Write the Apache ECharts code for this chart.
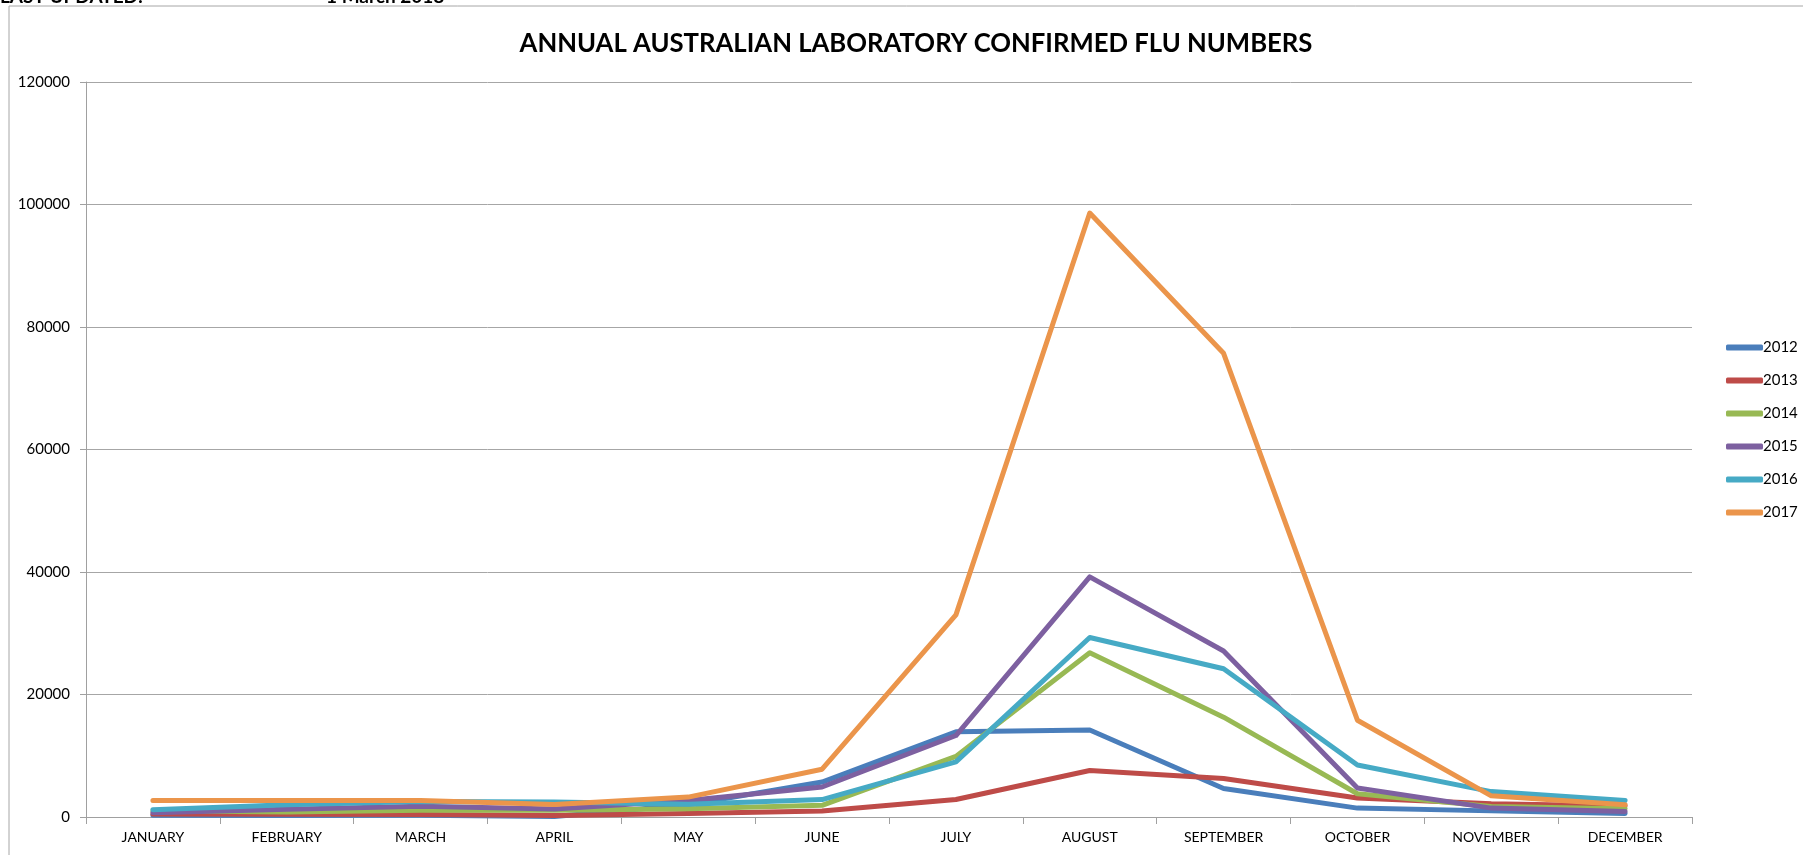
<!DOCTYPE html>
<html>
<head>
<meta charset="utf-8">
<title>Annual Australian Laboratory Confirmed Flu Numbers</title>
<script src="https://cdn.jsdelivr.net/npm/echarts@6/dist/echarts.min.js"></script>
<style>
	html, body { margin:0; padding:0; background:#fff; }
	#main { width:1803px; height:855px; }
</style>
</head>
<body>
<div id="main"></div>
<script>
// month labels on the category axis
var months = ['JANUARY','FEBRUARY','MARCH','APRIL','MAY','JUNE','JULY','AUGUST','SEPTEMBER','OCTOBER','NOVEMBER','DECEMBER'];
var years = ['2012','2013','2014','2015','2016','2017'];
var yTicks = [0, 20000, 40000, 60000, 80000, 100000, 120000];

// values
var flu2012 = [300, 260, 300, 100, 2000, 5700, 13900, 14200, 4650, 1450, 1000, 560];
var flu2013 = [490, 440, 400, 230, 560, 980, 2850, 7600, 6300, 3100, 2150, 1800];
var flu2014 = [1000, 800, 1100, 1100, 1350, 1900, 9900, 26800, 16300, 3800, 1700, 1350];
var flu2015 = [700, 1250, 1750, 1300, 2700, 4900, 13300, 39200, 27100, 4750, 1450, 900];
var flu2016 = [1200, 2000, 2550, 2450, 2100, 2850, 9000, 29300, 24200, 8500, 4150, 2700];
var flu2017 = [2700, 2700, 2700, 2050, 3250, 7800, 33000, 98600, 75700, 15800, 3450, 2000];

var colors = ['#4A7EBB','#BE4B48','#98B954','#7D60A0','#46AAC5','#EB954B'];
var fontName = 'Lato';

var myChart = echarts.init(document.getElementById('main'));

var seriesData = [flu2012, flu2013, flu2014, flu2015, flu2016, flu2017];
var seriesList = new Array();
for(var i = 0; i < years.length; i++){
	seriesList.push({
		name: years[i],
		type: 'line',
		data: seriesData[i],
		symbol: 'none',
		smooth: false,
		z: 2 + i,
		lineStyle: { width: 5, color: colors[i], cap: 'round', join: 'round' },
		itemStyle: { color: colors[i] }
	});
}

var option = {
	animation: false,
	backgroundColor: '#fff',
	color: colors,
	title: {
		text: 'ANNUAL AUSTRALIAN LABORATORY CONFIRMED FLU NUMBERS',
		left: 911,
		textAlign: 'center',
		top: 26,
		textStyle: { fontFamily: fontName, fontWeight: 'bold', fontSize: 25.7, color: '#000' }
	},
	// outer chart frame and the clipped header line above it
	graphic: [
		{ type: 'rect', shape: { x: 9, y: 6, width: 1820, height: 900 }, style: { fill: 'none', stroke: '#a6a6a6', lineWidth: 1 }, silent: true },
		{ type: 'text', left: 0, top: -13, style: { text: 'LAST UPDATED:', font: 'bold 19px Lato', fill: '#000' } },
		{ type: 'text', left: 326, top: -13, style: { text: '1 March 2018', font: 'bold 19px Lato', fill: '#000' } }
	],
	legend: {
		orient: 'vertical',
		left: 1721,
		top: 335,
		itemWidth: 37,
		itemHeight: 6,
		itemGap: 18,
		icon: 'roundRect',
		data: years,
		textStyle: { fontFamily: fontName, fontSize: 15, color: '#000', padding: [0, 0, 0, -5] }
	},
	grid: { left: 86, right: 111, top: 82, bottom: 38, containLabel: false },
	xAxis: {
		type: 'category',
		data: months,
		boundaryGap: true,
		axisLine: { lineStyle: { color: '#a0a0a0', width: 1 } },
		axisTick: { show: true, length: 7, lineStyle: { color: '#a0a0a0' } },
		axisLabel: { fontFamily: fontName, fontSize: 14, color: '#000', margin: 13, interval: 0 },
		splitLine: { show: false }
	},
	yAxis: {
		type: 'value',
		min: yTicks[0],
		max: yTicks[yTicks.length - 1],
		interval: 20000,
		axisLine: { show: true, lineStyle: { color: '#a0a0a0', width: 1 } },
		axisTick: { show: true, length: 6, lineStyle: { color: '#a0a0a0' } },
		axisLabel: {
			fontFamily: fontName, fontSize: 15, color: '#000', margin: 16,
			formatter: function(v){ return String(v); }
		},
		splitLine: { show: true, lineStyle: { color: '#a6a6a6', width: 1 } }
	},
	series: seriesList
};
myChart.setOption(option);
</script>
</body>
</html>
